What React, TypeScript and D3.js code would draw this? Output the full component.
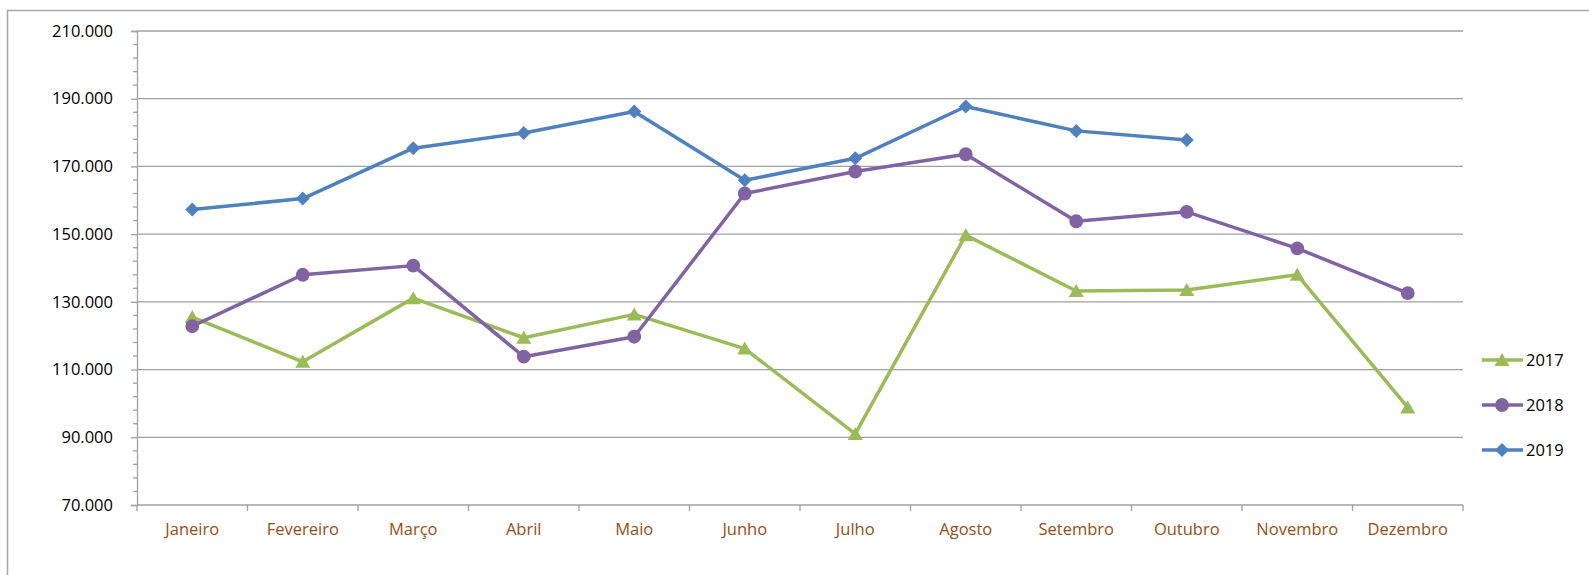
import React, { useEffect, useRef } from 'react';
import * as d3 from 'd3';

const months = ['Janeiro', 'Fevereiro', 'Março', 'Abril', 'Maio', 'Junho', 'Julho', 'Agosto', 'Setembro', 'Outubro', 'Novembro', 'Dezembro'];
const s2017 = [125500, 112300, 131100, 119400, 126300, 116200, 91000, 149700, 133200, 133500, 138000, 98800];
const s2018 = [122800, 138000, 140700, 113800, 119700, 162000, 168500, 173600, 153800, 156600, 145800, 132600];
const s2019 = [157300, 160500, 175400, 179900, 186200, 165900, 172400, 187700, 180500, 177800];
const yTicks = [70000, 90000, 110000, 130000, 150000, 170000, 190000, 210000];

// marker shapes centred on their bounding box, like the spreadsheet's
const triangle = 'M0,-7L7.5,6L-7.5,6Z';
const circle = d3.symbol().type(d3.symbolCircle).size(150)() as string;
const diamond = 'M0,-7L7,0L0,7L-7,0Z';

const series = [
  { name: '2017', values: s2017, color: '#9BBB59', marker: triangle },
  { name: '2018', values: s2018, color: '#8064A2', marker: circle },
  { name: '2019', values: s2019, color: '#4F81BD', marker: diamond },
];

const fmt = (v: number) => d3.format(',')(v).replace(/,/g, '.');

export default function App() {
  const ref = useRef<SVGSVGElement>(null);

  useEffect(() => {
    const svg = d3.select(ref.current);
    svg.selectAll('*').remove();
    const margin = { left: 137, right: 1463, top: 31, bottom: 505 };
    const font = '"Open Sans", sans-serif';

    const x = d3.scaleBand().domain(months).range([margin.left, margin.right]);
    const y = d3.scaleLinear().domain([70000, 210000]).range([margin.bottom, margin.top]);

    svg.append('rect')
      .attr('x', 7.5).attr('y', 10.5).attr('width', 1700).attr('height', 700)
      .attr('fill', 'white').attr('stroke', '#a6a6a6').attr('stroke-width', 1.5);

    // gridlines
    svg.append('g').selectAll('line').data(yTicks.slice(1)).join('line')
      .attr('x1', margin.left).attr('x2', margin.right)
      .attr('y1', (d) => y(d)).attr('y2', (d) => y(d))
      .attr('stroke', '#a0a0a0').attr('stroke-width', 1.3);

    // y axis
    const yAxis = svg.append('g').attr('transform', `translate(${margin.left},0)`)
      .call(d3.axisLeft(y).tickValues(yTicks).tickSize(6).tickFormat((d: any) => fmt(d)));
    yAxis.select('.domain').attr('stroke', '#a0a0a0').attr('stroke-width', 1.3);
    yAxis.selectAll('.tick line').attr('stroke', '#a0a0a0').attr('stroke-width', 1.3);
    yAxis.selectAll('.tick text').attr('font-family', font).attr('font-size', 16.5)
      .attr('fill', '#000').attr('x', -24);
    const minor = d3.range(70000, 210000, 4000).filter((v) => v % 20000 !== 10000);
    yAxis.append('g').selectAll('line').data(minor).join('line')
      .attr('x1', -4).attr('x2', 0).attr('y1', (d) => y(d)).attr('y2', (d) => y(d))
      .attr('stroke', '#a0a0a0').attr('stroke-width', 1.3);

    // x axis
    const xg = svg.append('g');
    xg.append('line').attr('x1', margin.left).attr('x2', margin.right)
      .attr('y1', margin.bottom).attr('y2', margin.bottom)
      .attr('stroke', '#a0a0a0').attr('stroke-width', 1.5);
    const bounds = d3.range(months.length + 1).map((i) => margin.left + i * x.bandwidth());
    xg.selectAll('line.t').data(bounds).join('line').attr('class', 't')
      .attr('x1', (d) => d).attr('x2', (d) => d)
      .attr('y1', margin.bottom).attr('y2', margin.bottom + 6)
      .attr('stroke', '#a0a0a0').attr('stroke-width', 1.3);
    xg.selectAll('text').data(months).join('text')
      .attr('x', (d) => (x(d) as number) + x.bandwidth() / 2).attr('y', 535)
      .attr('text-anchor', 'middle').attr('font-family', font).attr('font-size', 16.5)
      .attr('fill', '#984E14').text((d) => d);

    const cx = (i: number) => (x(months[i]) as number) + x.bandwidth() / 2;

    series.forEach((s) => {
      const line = d3.line<number>().x((_, i) => cx(i)).y((d) => y(d));
      svg.append('path').datum(s.values).attr('d', line)
        .attr('fill', 'none').attr('stroke', s.color).attr('stroke-width', 3.5)
        .attr('stroke-linejoin', 'round');
      svg.append('g').selectAll('path').data(s.values).join('path')
        .attr('d', s.marker)
        .attr('transform', (d, i) => `translate(${cx(i)},${y(d)})`)
        .attr('fill', s.color);
    });

    // legend
    const lg = svg.append('g');
    const ly = [360, 405, 450];
    series.forEach((s, i) => {
      const g = lg.append('g').attr('transform', `translate(0,${ly[i]})`);
      g.append('line').attr('x1', 1482).attr('x2', 1523).attr('y1', 0).attr('y2', 0)
        .attr('stroke', s.color).attr('stroke-width', 3.5);
      g.append('path').attr('d', s.marker)
        .attr('transform', 'translate(1502,0)').attr('fill', s.color);
      g.append('text').attr('x', 1526).attr('y', 0).attr('dy', '0.35em')
        .attr('font-family', font).attr('font-size', 16.5).attr('fill', '#000').text(s.name);
    });
  }, []);

  return (
    <svg ref={ref} width={1589} height={575}
      style={{ position: 'absolute', left: 0, top: 0, background: 'white' }} />
  );
}
